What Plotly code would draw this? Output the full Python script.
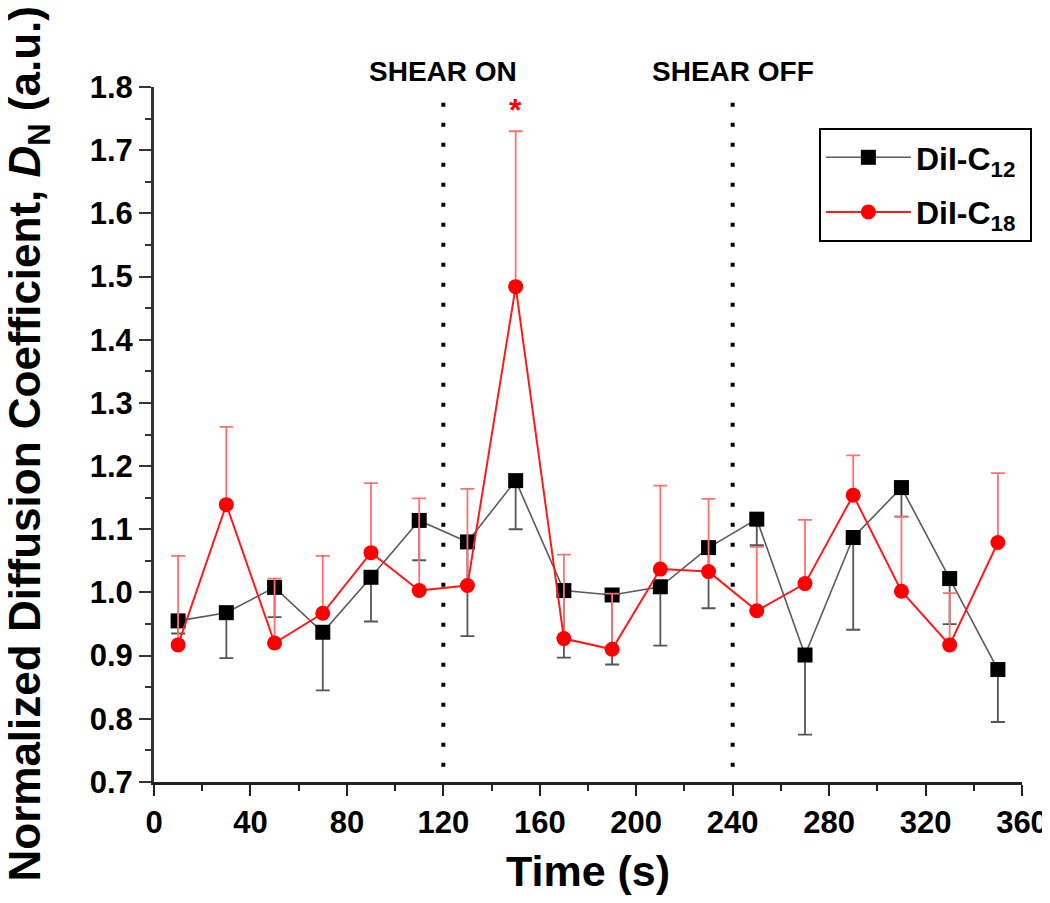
import plotly.graph_objects as go

time_s = [10, 30, 50, 70, 90, 110, 130, 150, 170, 190, 210, 230, 250, 270, 290, 310, 330, 350]

dil_c12 = [0.955, 0.968, 1.008, 0.937, 1.024, 1.114, 1.080, 1.177, 1.003, 0.996,
           1.009, 1.071, 1.116, 0.901, 1.087, 1.166, 1.022, 0.878]
dil_c12_err_minus = [0.020, 0.072, 0.047, 0.092, 0.070, 0.063, 0.149, 0.077, 0.106, 0.110,
                     0.093, 0.096, 0.041, 0.126, 0.146, 0.046, 0.072, 0.083]

dil_c18 = [0.917, 1.139, 0.920, 0.967, 1.063, 1.003, 1.011, 1.484, 0.927, 0.910,
           1.037, 1.033, 0.971, 1.014, 1.154, 1.002, 0.917, 1.079]
dil_c18_err_plus = [0.141, 0.123, 0.102, 0.091, 0.110, 0.146, 0.153, 0.246, 0.133, 0.088,
                    0.132, 0.115, 0.101, 0.101, 0.063, 0.118, 0.082, 0.110]

x_ticks = [0, 40, 80, 120, 160, 200, 240, 280, 320, 360]
y_ticks = [0.7, 0.8, 0.9, 1.0, 1.1, 1.2, 1.3, 1.4, 1.5, 1.6, 1.7, 1.8]
shear_times = [120, 240]
shear_labels = ["SHEAR ON", "SHEAR OFF"]
sig_time = 150
sig_value = 1.763

FONT = "Liberation Sans, Arial, sans-serif"
n = len(time_s)

fig = go.Figure()

fig.add_trace(go.Scatter(
    x=time_s, y=dil_c12, mode="lines+markers",
    name="DiI-C<sub>12</sub>&nbsp;",
    line=dict(color="#5a5a5a", width=1.6),
    marker=dict(symbol="square", size=15, color="black"),
    error_y=dict(type="data", symmetric=False, array=[0] * n,
                 arrayminus=dil_c12_err_minus, color="#555555",
                 thickness=1.8, width=7),
    legendgroup="a",
))

fig.add_trace(go.Scatter(
    x=time_s, y=dil_c18, mode="lines+markers",
    name="DiI-C<sub>18</sub>&nbsp;",
    line=dict(color="#ff1a1a", width=2),
    marker=dict(symbol="circle", size=15, color="#ff0000"),
    error_y=dict(type="data", symmetric=False, array=dil_c18_err_plus,
                 arrayminus=[0] * n, color="#ff7070",
                 thickness=1.8, width=7),
    legendgroup="b",
))

shapes = []
for t in shear_times:
    shapes.append(dict(type="line", xref="x", yref="y", x0=t, x1=t, y0=1.775, y1=0.7,
                       line=dict(color="black", width=4, dash="4px,16px")))

annotations = []
for t, lab in zip(shear_times, shear_labels):
    annotations.append(dict(x=t, y=1.0216, xref="x", yref="paper", text=lab,
                            showarrow=False, xanchor="center", yanchor="middle",
                            font=dict(family=FONT, size=28, color="black", weight="bold")))
annotations.append(dict(x=sig_time, y=sig_value, xref="x", yref="y", text="*",
                        showarrow=False, xanchor="center", yanchor="middle",
                        font=dict(family=FONT, size=32, color="#ff0000", weight="bold")))
annotations.append(dict(x=-0.1452, y=0.487, xref="paper", yref="paper",
                        text="Normalized Diffusion Coefficient, <i>D</i><sub>N</sub> (a.u.)",
                        textangle=-90, showarrow=False, xanchor="center", yanchor="middle",
                        font=dict(family=FONT, size=44, color="black", weight="bold")))
annotations.append(dict(x=0.5, y=-0.128, xref="paper", yref="paper",
                        text="Time (s)", showarrow=False, xanchor="center", yanchor="middle",
                        font=dict(family=FONT, size=43, color="black", weight="bold")))

# page body has an 8px margin, so the figure is slightly smaller and margins shifted
fig.update_layout(
    width=1042, height=887,
    margin=dict(l=146, r=28, t=79, b=113),
    paper_bgcolor="white", plot_bgcolor="white",
    showlegend=True,
    legend=dict(x=0.766, y=0.941, xanchor="left", yanchor="top",
                bordercolor="black", borderwidth=2, bgcolor="white",
                font=dict(family=FONT, size=32, color="black", weight="bold"),
                tracegroupgap=10, traceorder="grouped", itemwidth=85),
    shapes=shapes,
    annotations=annotations,
)

fig.update_xaxes(
    range=[0, 360], tickvals=x_ticks, ticktext=[str(v) for v in x_ticks],
    automargin=False,
    showgrid=False, zeroline=False,
    showline=True, linecolor="#222222", linewidth=3,
    ticks="outside", ticklen=11, tickwidth=2, tickcolor="#222222",
    minor=dict(dtick=20, tick0=0, ticks="outside", ticklen=6, tickwidth=2, tickcolor="#222222"),
    tickfont=dict(family=FONT, size=31, color="black", weight="bold"),
    ticklabelstandoff=0,
)
fig.update_yaxes(
    range=[0.7, 1.8], tickvals=y_ticks, ticktext=["%.1f" % v for v in y_ticks],
    automargin=False,
    showgrid=False, zeroline=False,
    showline=True, linecolor="#333333", linewidth=3,
    ticks="outside", ticklen=12, tickwidth=2, tickcolor="#333333",
    minor=dict(dtick=0.05, tick0=0.7, ticks="outside", ticklen=6, tickwidth=2, tickcolor="#333333"),
    tickfont=dict(family=FONT, size=31, color="black", weight="bold"),
    ticklabelstandoff=0,
)

fig.write_html("out.html")
